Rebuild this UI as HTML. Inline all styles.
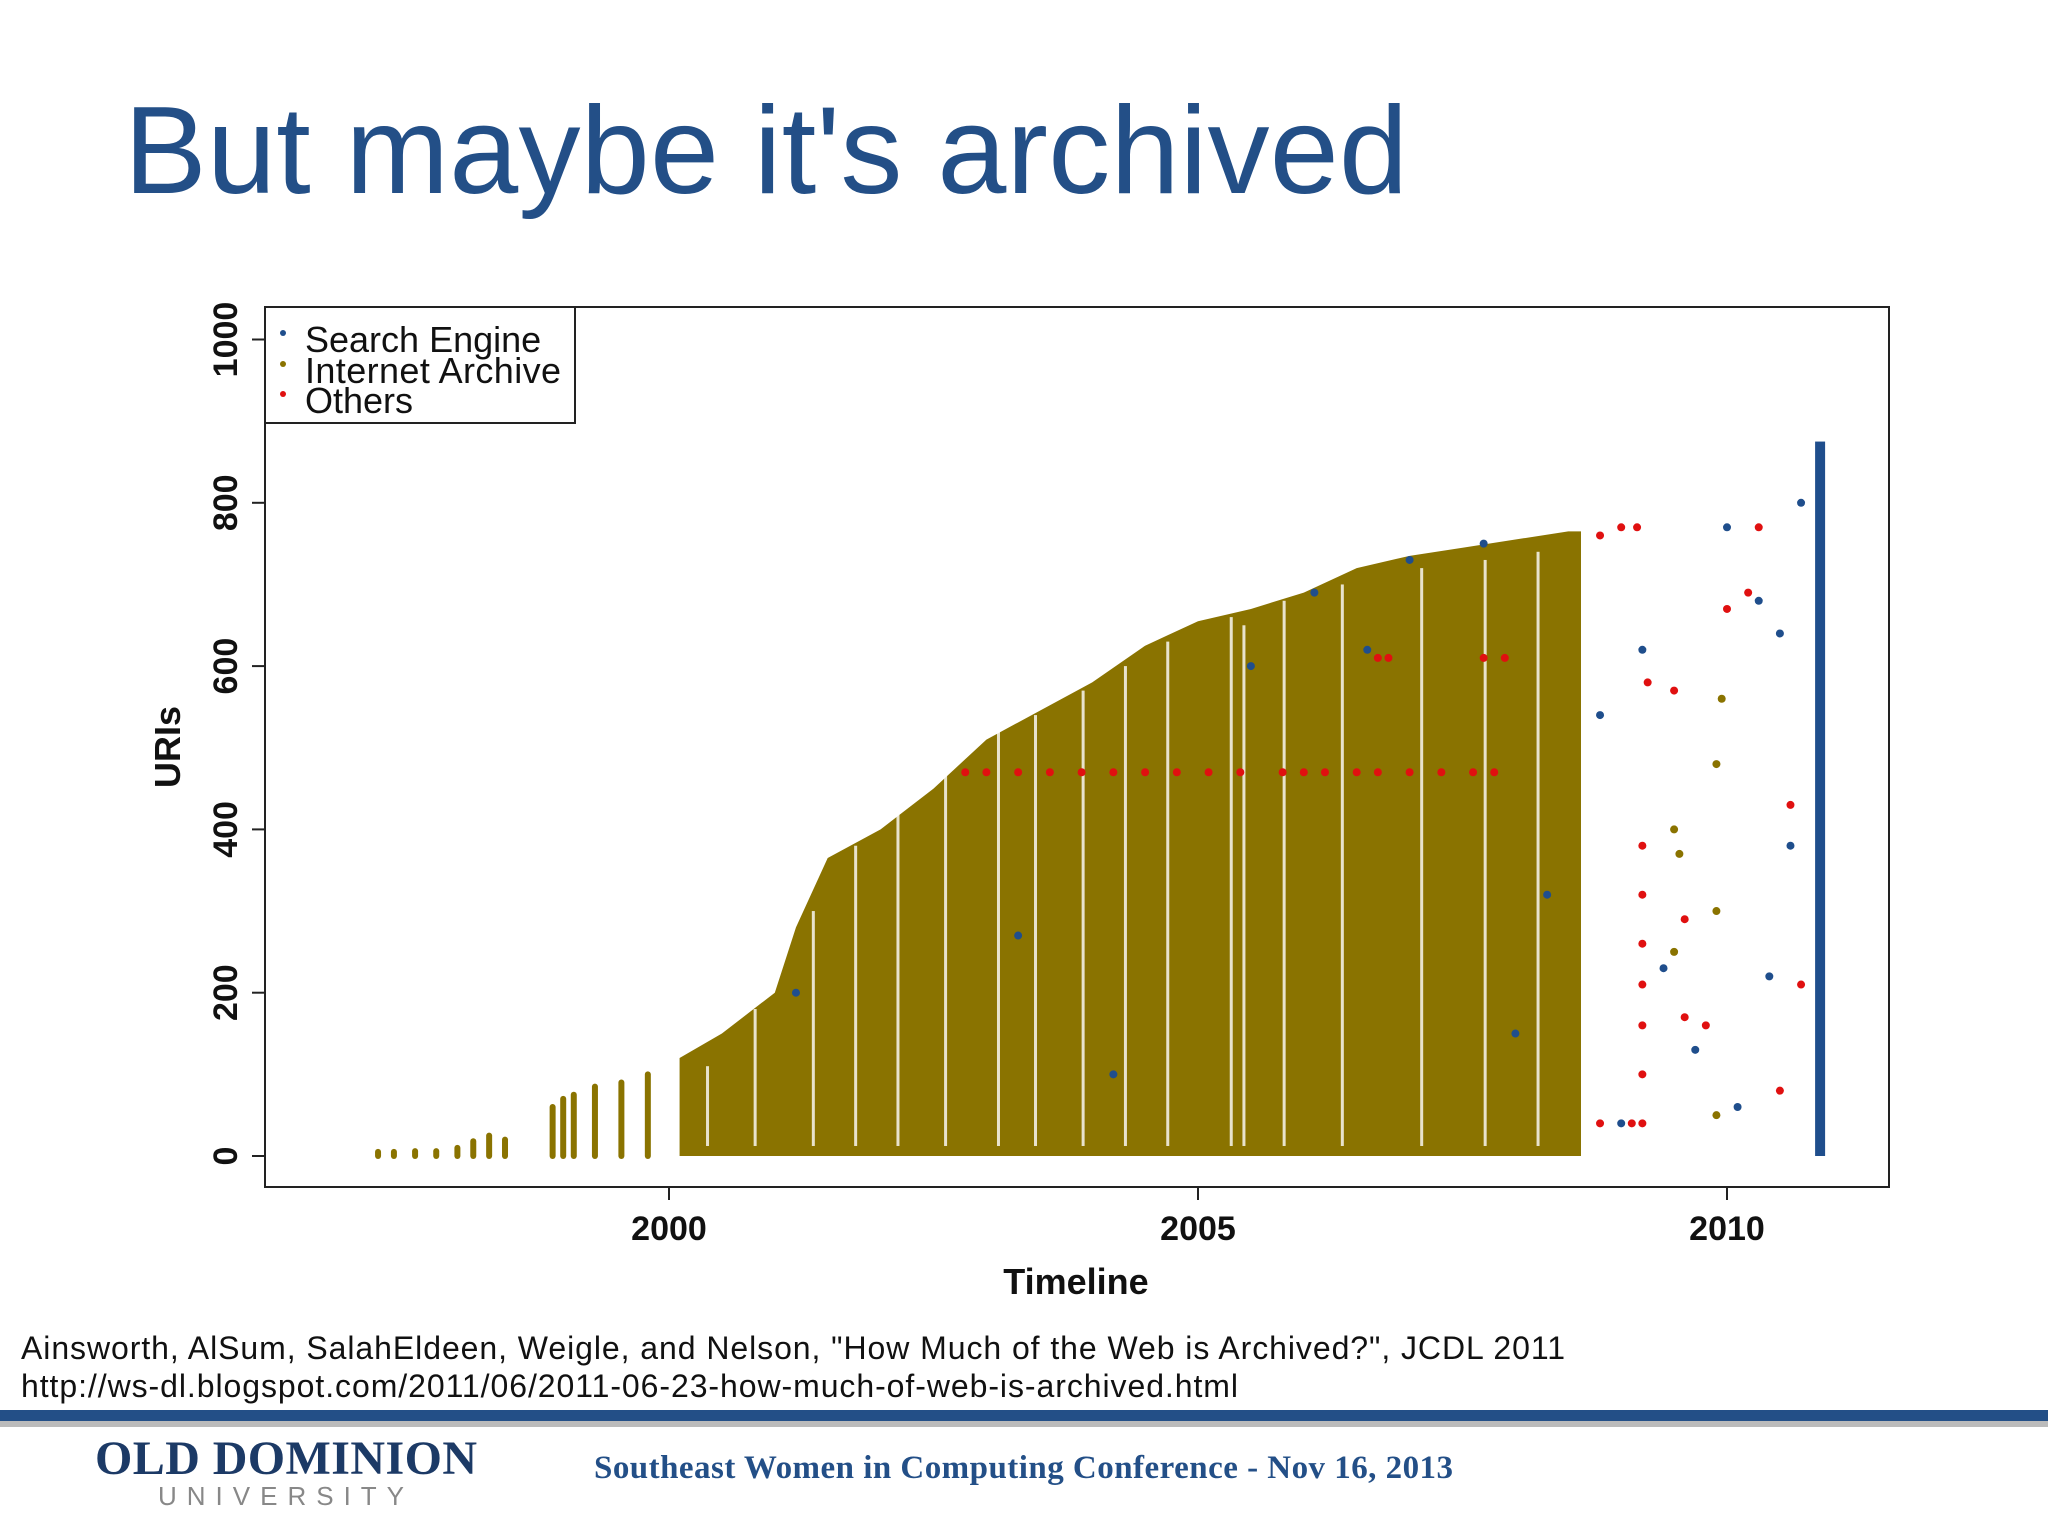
<!DOCTYPE html>
<html><head><meta charset="utf-8"><style>
body{margin:0;background:#fff;}
svg{display:block;}
</style></head><body>
<svg width="2048" height="1536" viewBox="0 0 2048 1536" xmlns="http://www.w3.org/2000/svg">
<text x="124" y="193" font-family="Liberation Sans, sans-serif" font-size="124" fill="#234f87" textLength="1284">But maybe it's archived</text>
<g id="plot"></g>
<rect x="265" y="307" width="1624" height="880" fill="none" stroke="#222" stroke-width="2"/>
<g>
<rect x="265" y="307" width="310" height="116" fill="#fff" stroke="#222" stroke-width="2"/>
<circle cx="283" cy="333" r="3" fill="#1f4e8c"/>
<circle cx="283" cy="364" r="3" fill="#8a7300"/>
<circle cx="283" cy="394" r="3" fill="#e01010"/>
<text x="305" y="352" font-family="Liberation Sans, sans-serif" font-size="36" fill="#111">Search Engine</text>
<text x="305" y="383" font-family="Liberation Sans, sans-serif" font-size="36" fill="#111" textLength="256">Internet Archive</text>
<text x="305" y="413" font-family="Liberation Sans, sans-serif" font-size="36" fill="#111">Others</text>
</g>
<g id="axes"></g>
<text x="1076" y="1294" text-anchor="middle" font-family="Liberation Sans, sans-serif" font-weight="bold" font-size="36" fill="#111">Timeline</text>
<text transform="translate(180,747) rotate(-90)" text-anchor="middle" font-family="Liberation Sans, sans-serif" font-weight="bold" font-size="36" fill="#111">URIs</text>
<text x="21" y="1359" font-family="Liberation Sans, sans-serif" font-size="32" fill="#111" textLength="1544">Ainsworth, AlSum, SalahEldeen, Weigle, and Nelson, "How Much of the Web is Archived?", JCDL 2011</text>
<text x="21" y="1397" font-family="Liberation Sans, sans-serif" font-size="32" fill="#111" textLength="1217">http://ws-dl.blogspot.com/2011/06/2011-06-23-how-much-of-web-is-archived.html</text>
<rect x="0" y="1410" width="2048" height="11" fill="#234f87"/>
<rect x="0" y="1421" width="2048" height="6" fill="#bbb"/>
<text x="95" y="1474" font-family="Liberation Serif, serif" font-weight="bold" font-size="48" fill="#1c3a66" textLength="382">OLD DOMINION</text>
<text x="158" y="1505" font-family="Liberation Sans, sans-serif" font-size="26" fill="#888" letter-spacing="10">UNIVERSITY</text>
<text x="594" y="1478" font-family="Liberation Serif, serif" font-weight="bold" font-size="33" fill="#234f87" textLength="859">Southeast Women in Computing Conference - Nov 16, 2013</text>
</svg>
<script>
const xTicks=[2000,2005,2010];
const yTicks=[0,200,400,600,800,1000];
const envYears=[2000.1,2000.5,2001.0,2001.2,2001.5,2002.0,2002.5,2003.0,2003.5,2004.0,2004.5,2005.0,2005.5,2006.0,2006.5,2007.0,2007.5,2008.0,2008.5,2008.62];
const envTop=[120,150,200,280,365,400,450,510,545,580,625,655,670,690,720,735,745,755,765,765];
const earlyYears=[1997.25,1997.4,1997.6,1997.8,1998.0,1998.15,1998.3,1998.45,1998.9,1999.0,1999.1,1999.3,1999.55,1999.8];
const earlyTop=[5,5,6,6,10,18,25,20,60,70,75,85,90,100];
const gapYears=[2000.35,2000.8,2001.35,2001.75,2002.15,2002.6,2003.1,2003.45,2003.9,2004.3,2004.7,2005.3,2005.42,2005.8,2006.35,2007.1,2007.7,2008.2];
const gapTop=[110,180,300,380,420,470,520,540,570,600,630,660,650,680,700,720,730,740];
const lateIaYears=[2009.5,2009.55,2009.9,2009.95,2009.9,2009.5,2009.9];
const lateIaVals=[400,370,480,560,300,250,50];
const redRowYears=[2002.8,2003.0,2003.3,2003.6,2003.9,2004.2,2004.5,2004.8,2005.1,2005.4,2005.8,2006.0,2006.2,2006.5,2006.7,2007.0,2007.3,2007.6,2007.8];
const redRowVals=[470,470,470,470,470,470,470,470,470,470,470,470,470,470,470,470,470,470,470];
const redYears=[2006.7,2006.8,2007.7,2007.9,2008.8,2009.0,2009.15,2009.2,2009.2,2009.2,2009.2,2009.2,2009.2,2009.2,2009.25,2009.5,2009.6,2009.6,2009.8,2010.0,2010.2,2010.3,2010.6,2010.7,2010.5,2008.8,2009.1];
const redVals=[610,610,610,610,760,770,770,40,100,160,210,260,320,380,580,570,290,170,160,670,690,770,430,210,80,40,40];
const blueYears=[2004.2,2005.5,2006.1,2006.6,2007.0,2007.7,2008.3,2008.8,2009.2,2009.4,2009.7,2010.0,2010.1,2010.3,2010.4,2010.5,2010.6,2010.7,2003.3,2001.2,2008.0,2009.0];
const blueVals=[100,600,690,620,730,750,320,540,620,230,130,770,60,680,220,640,380,800,270,200,150,40];
const seColYear=2010.88;
const seColTop=875;

const ns='http://www.w3.org/2000/svg';
const X=y=>669+(y-2000)*105.8;
const Y=v=>1156-v*0.8165;
const plot=document.getElementById('plot');
const axes=document.getElementById('axes');
function mk(tag,attrs,parent){const e=document.createElementNS(ns,tag);for(const k in attrs)e.setAttribute(k,attrs[k]);parent.appendChild(e);return e;}
let d='M'+X(envYears[0])+','+Y(0);
envYears.forEach((yr,i)=>{d+=' L'+X(yr)+','+Y(envTop[i]);});
d+=' L'+X(envYears[envYears.length-1])+','+Y(0)+' Z';
const area=mk('path',{d:d,fill:'#8a7300'},plot);


gapYears.forEach((yr,i)=>{
 const g=mk('rect',{x:X(yr),y:Y(gapTop[i]),width:3,height:Y(0)-Y(gapTop[i])-10,fill:'#fff',opacity:0.8},plot);
 
 
});
earlyYears.forEach((yr,i)=>{
 const c=mk('rect',{x:X(yr)-3,y:Y(earlyTop[i])-3,width:6,height:Y(0)-Y(earlyTop[i])+6,rx:3,fill:'#8a7300'},plot);
 
 
});
function dots(ys,vs,col,name){ys.forEach((yr,i)=>{
 const c=mk('circle',{cx:X(yr),cy:Y(vs[i]),r:4,fill:col},plot);
 
 
});}
dots(lateIaYears,lateIaVals,'#8a7300','internet-archive-point');
dots(redRowYears,redRowVals,'#e01010','others-point');
dots(redYears,redVals,'#e01010','others-point');
dots(blueYears,blueVals,'#1f4e8c','search-engine-point');
const se=mk('rect',{x:X(seColYear)-5,y:Y(seColTop),width:10,height:Y(0)-Y(seColTop),fill:'#1f4e8c'},plot);


xTicks.forEach(t=>{
 const l=mk('line',{x1:X(t),x2:X(t),y1:1187,y2:1200,stroke:'#222','stroke-width':2},axes);
 
 
 const tx=mk('text',{x:X(t),y:1240,'text-anchor':'middle','font-family':'Liberation Sans, sans-serif','font-weight':'bold','font-size':34,fill:'#111'},axes);
 tx.textContent=t;
 
 
});
yTicks.forEach(t=>{
 const l=mk('line',{x1:252,x2:265,y1:Y(t),y2:Y(t),stroke:'#222','stroke-width':2},axes);
 
 
 const tx=mk('text',{transform:'translate(237,'+Y(t)+') rotate(-90)','text-anchor':'middle','font-family':'Liberation Sans, sans-serif','font-weight':'bold','font-size':34,fill:'#111'},axes);
 tx.textContent=t;
 
 
});
</script>
</body></html>
